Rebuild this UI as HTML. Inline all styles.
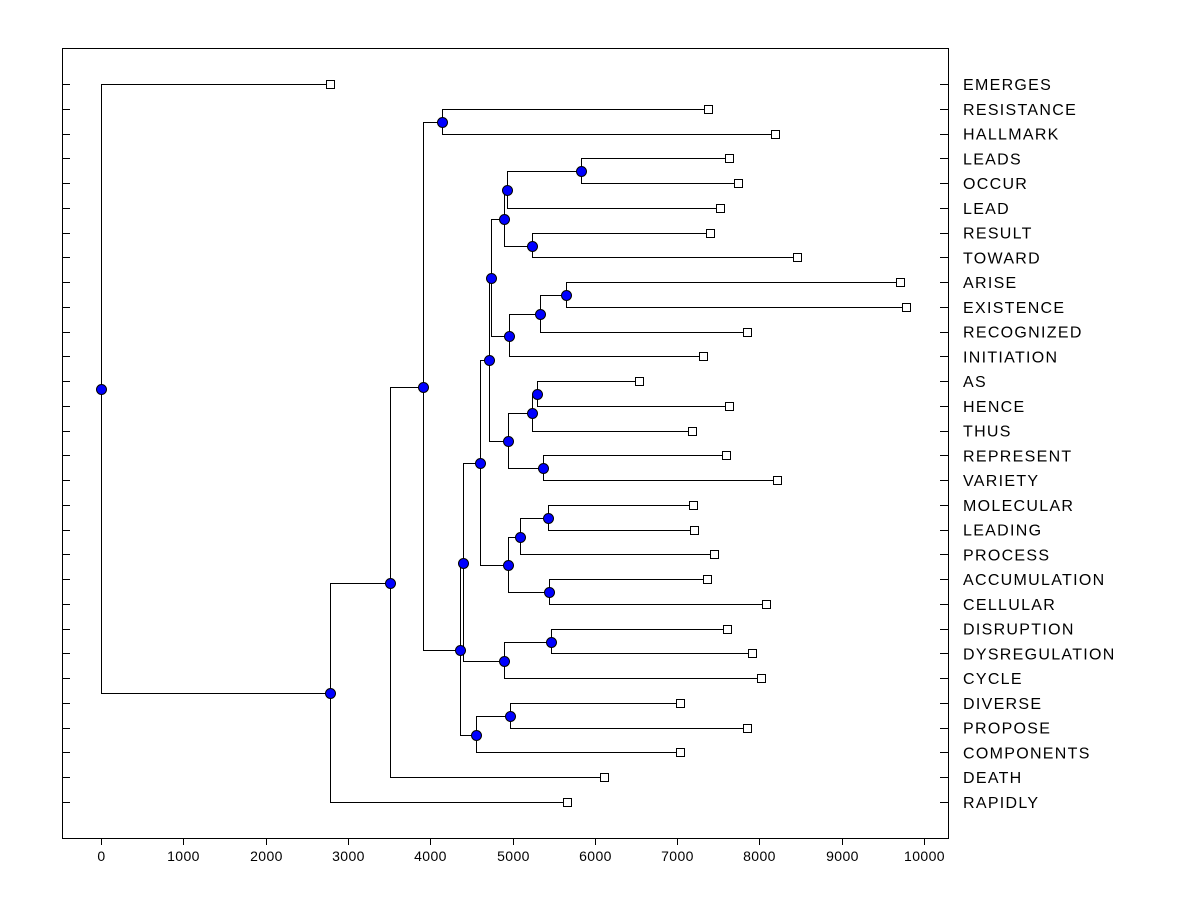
<!DOCTYPE html>
<html><head><meta charset="utf-8"><style>
html,body{margin:0;padding:0;background:#fff;}
svg{display:block;font-family:"Liberation Sans",Arial,sans-serif;}
</style></head><body>
<svg id="chart" width="1200" height="900" xmlns="http://www.w3.org/2000/svg"></svg>
<script>
const leafNames=["EMERGES","RESISTANCE","HALLMARK","LEADS","OCCUR","LEAD","RESULT","TOWARD","ARISE","EXISTENCE","RECOGNIZED","INITIATION","AS","HENCE","THUS","REPRESENT","VARIETY","MOLECULAR","LEADING","PROCESS","ACCUMULATION","CELLULAR","DISRUPTION","DYSREGULATION","CYCLE","DIVERSE","PROPOSE","COMPONENTS","DEATH","RAPIDLY"];
const leafValues=[2783,7375,8190,7630,7740,7521,7400,8457,9708,9781,7849,7315,6537,7630,7181,7594,8214,7193,7205,7448,7363,8080,7606,7910,8019,7035,7849,7035,6112,5662];
const nodeIds=["W","U","V","S","Y","X","T","Q","BB","Z","AA","R","L","P","N","O","M","I","K","J","F","H","G","E","D","C","B","A","ROOT"];
const nodeLeft=["LEADS","W","RESULT","U","ARISE","Y","X","S","AS","BB","REPRESENT","Z","Q","MOLECULAR","P","ACCUMULATION","N","L","DISRUPTION","K","I","DIVERSE","H","F","RESISTANCE","D","C","B","EMERGES"];
const nodeRight=["OCCUR","LEAD","TOWARD","V","EXISTENCE","RECOGNIZED","INITIATION","T","HENCE","THUS","VARIETY","AA","R","LEADING","PROCESS","CELLULAR","O","M","DYSREGULATION","CYCLE","J","PROPOSE","COMPONENTS","G","HALLMARK","E","DEATH","RAPIDLY","A"];
const nodeHeight=[5832,4933,5237,4897,5650,5334,4957,4735,5298,5237,5371,4945,4720,5431,5091,5443,4945,4605,5468,4897,4399,4970,4557,4362,4143,3913,3512,2783,0];
const xTicks=[0,1000,2000,3000,4000,5000,6000,7000,8000,9000,10000];

const svg=document.getElementById('chart');
const NS="http://www.w3.org/2000/svg";
const X0=62,X1=948,Y0=48,Y1=838;
const xs=v=>101+v*(924-101)/10000;
const ys=i=>84+i*(802-84)/29;
function mk(tag,attrs,parent){const e=document.createElementNS(NS,tag);for(const k in attrs)e.setAttribute(k,attrs[k]);(parent||svg).appendChild(e);return e;}

const frame=mk('rect',{x:X0+0.5,y:Y0+0.5,width:X1-X0,height:Y1-Y0,fill:'none',stroke:'#000','stroke-width':1,'shape-rendering':'crispEdges'});



const xAxis=mk('g',{'shape-rendering':'crispEdges'});


xTicks.forEach(t=>{
  const x=Math.round(xs(t))+0.5;
  const tk=mk('line',{x1:x,x2:x,y1:Y1,y2:Y1+7,stroke:'#000'},xAxis);
  
  
  const tl=mk('text',{x:x,y:Y1+23,'text-anchor':'middle','font-size':14,fill:'#000','letter-spacing':0.4},xAxis);
  tl.textContent=t;
  
  
});

const pos={};
leafNames.forEach((n,i)=>{pos[n]={x:Math.round(xs(leafValues[i])),y:Math.round(ys(i))+0.5};});
const gTree=mk('g',{'shape-rendering':'crispEdges'});


const nodesG=mk('g',{});


nodeIds.forEach((id,k)=>{
  const a=pos[nodeLeft[k]],b=pos[nodeRight[k]];
  const x=Math.round(xs(nodeHeight[k]))+0.5;const y=Math.round((a.y+b.y)/2)+0.5;
  pos[id]={x:x,y:y};
  const p=mk('path',{d:`M${a.x},${a.y}H${x}V${b.y}H${b.x}`,fill:'none',stroke:'#000','stroke-width':1},gTree);
  
  
  const c=mk('circle',{cx:x,cy:y,r:5,fill:'#0000ff',stroke:'#000','stroke-width':1},nodesG);
  
  
});
svg.appendChild(nodesG);

leafNames.forEach((n,i)=>{
  const y=Math.round(ys(i))+0.5;
  const tk=mk('line',{x1:X0,x2:X0+8,y1:y,y2:y,stroke:'#000','shape-rendering':'crispEdges'});
  
  
  const tk2=mk('line',{x1:X1-8,x2:X1,y1:y,y2:y,stroke:'#000','shape-rendering':'crispEdges'});
  
  
  const r=mk('rect',{x:pos[n].x-3.5,y:y-4,width:8,height:8,fill:'#fff',stroke:'#000','stroke-width':1,'shape-rendering':'crispEdges'});
  
  
  const t=mk('text',{x:963,y:ys(i)+6,'font-size':16,fill:'#000','letter-spacing':1.3});
  t.textContent=n;
  
  
});
</script>
</body></html>
